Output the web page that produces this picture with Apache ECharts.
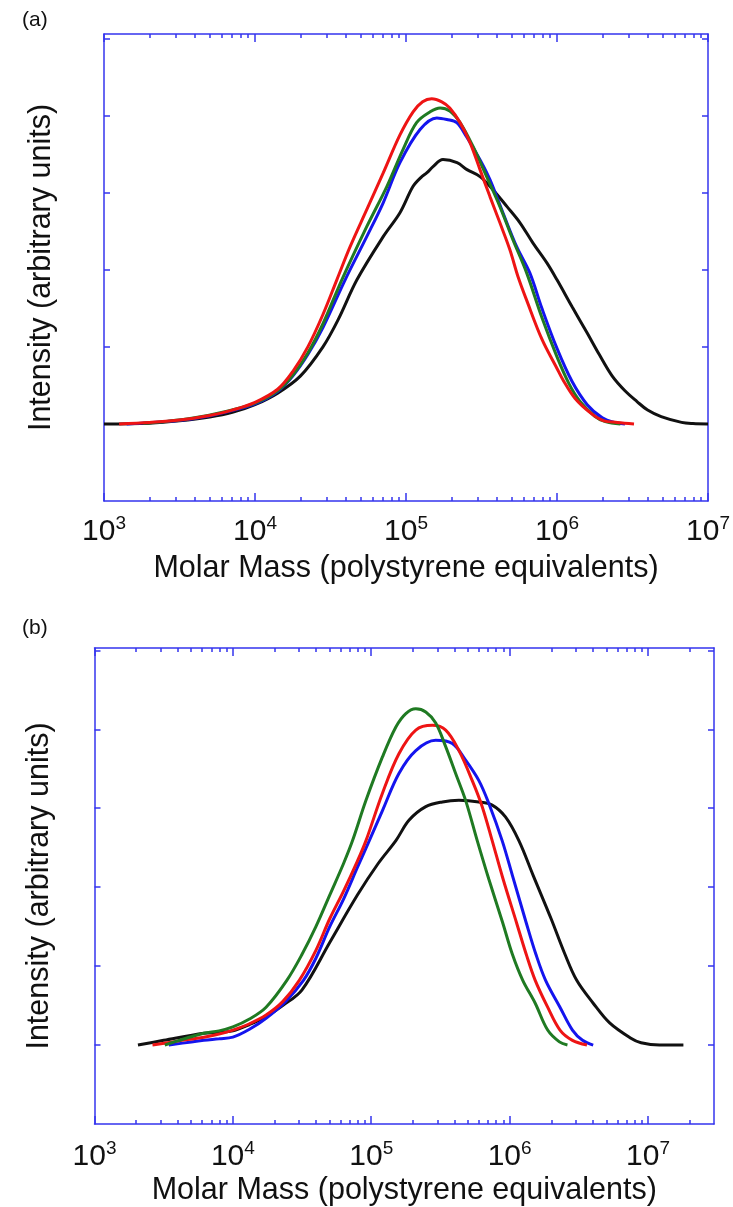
<!DOCTYPE html>
<html><head><meta charset="utf-8">
<script src="https://cdn.jsdelivr.net/npm/echarts@6/dist/echarts.min.js"></script>
<style>html,body{margin:0;padding:0;background:#fff}#c{width:733px;height:1207px}</style>
</head><body><div id="c"></div>
<script>
// ---------- data: log10(molar mass) and intensity (arbitrary units) ----------
// Panel (a)
const aRedLogM   = [3.1,3.3,3.5,3.7,3.85,4.0,4.15,4.25,4.35,4.45,4.542,4.63,4.74,4.85,4.96,5.047,5.11,5.17,5.237,5.29,5.358,5.424,5.49,5.556,5.622,5.688,5.742,5.8,5.9,6.0,6.04,6.12,6.23,6.31,6.4,6.51];
const aRedI      = [0,0.02,0.05,0.11,0.18,0.28,0.45,0.68,1.0,1.42,1.87,2.3,2.78,3.26,3.75,4.05,4.18,4.22,4.18,4.1,3.91,3.65,3.3,2.95,2.61,2.26,1.91,1.6,1.1,0.72,0.57,0.33,0.13,0.04,0.02,0];
const aGreenLogM = [3.26,3.4,3.6,3.8,4.0,4.15,4.25,4.35,4.45,4.575,4.74,4.873,4.98,5.07,5.16,5.226,5.29,5.358,5.444,5.534,5.622,5.708,5.799,5.9,6.0,6.08,6.15,6.25,6.32,6.42];
const aGreenI    = [0.01,0.03,0.08,0.16,0.27,0.43,0.63,0.92,1.3,1.87,2.56,3.08,3.56,3.91,4.05,4.1,4.06,3.91,3.6,3.21,2.82,2.39,1.96,1.38,0.87,0.52,0.3,0.1,0.03,0];
const aBlueLogM  = [3.15,3.4,3.6,3.8,4.0,4.15,4.25,4.35,4.45,4.597,4.74,4.849,4.96,5.093,5.204,5.27,5.336,5.4,5.49,5.556,5.642,5.733,5.82,5.9,6.0,6.1,6.2,6.3,6.38,6.45];
const aBlueI     = [0,0.03,0.07,0.15,0.26,0.42,0.62,0.9,1.25,1.87,2.43,2.87,3.39,3.82,3.97,3.95,3.91,3.73,3.43,3.17,2.74,2.3,1.96,1.5,0.98,0.55,0.25,0.08,0.02,0];
const aBlackLogM = [3.0,3.3,3.5,3.7,3.85,4.0,4.15,4.3,4.45,4.55,4.675,4.849,4.96,5.046,5.1,5.139,5.179,5.245,5.338,5.404,5.49,5.576,5.669,5.755,5.84,5.933,6.0,6.1,6.2,6.28,6.366,6.45,6.53,6.6,6.69,6.825,6.9,7.0];
const aBlackI    = [0,0.01,0.04,0.09,0.15,0.25,0.4,0.62,1.0,1.35,1.87,2.43,2.74,3.08,3.2,3.26,3.34,3.43,3.39,3.3,3.21,3.04,2.82,2.61,2.35,2.09,1.87,1.52,1.18,0.9,0.62,0.43,0.29,0.18,0.095,0.02,0.005,0];
// Panel (b)
const bGreenLogM = [3.508,3.65,3.79,3.9,4.0,4.12,4.24,4.39,4.5,4.6,4.7,4.8,4.865,4.962,5.081,5.178,5.25,5.322,5.394,5.466,5.538,5.61,5.682,5.766,5.85,5.95,6.02,6.095,6.185,6.275,6.36,6.418];
const bGreenI    = [0,0.08,0.15,0.18,0.23,0.33,0.48,0.82,1.15,1.5,1.9,2.3,2.59,3.1,3.65,4.03,4.2,4.26,4.22,4.08,3.78,3.44,3.1,2.59,2.1,1.55,1.15,0.82,0.53,0.19,0.04,0];
const bRedLogM   = [3.419,3.6,3.79,3.9,4.0,4.12,4.24,4.36,4.48,4.6,4.7,4.8,4.9,4.962,5.081,5.2,5.322,5.442,5.538,5.634,5.73,5.802,5.874,5.95,6.05,6.12,6.185,6.275,6.364,6.454,6.559];
const bRedI      = [0,0.05,0.1,0.14,0.19,0.27,0.38,0.55,0.82,1.2,1.6,1.95,2.33,2.59,3.19,3.69,3.99,4.05,3.99,3.73,3.35,3.02,2.59,2.12,1.55,1.15,0.82,0.48,0.19,0.06,0];
const bBlueLogM  = [3.537,3.7,3.79,3.9,4.0,4.12,4.24,4.38,4.51,4.6,4.7,4.8,4.9,4.986,5.081,5.2,5.322,5.466,5.586,5.682,5.778,5.85,5.946,6.02,6.12,6.19,6.26,6.364,6.454,6.527,6.604];
const bBlueI     = [0,0.04,0.06,0.08,0.1,0.2,0.34,0.55,0.82,1.1,1.5,1.85,2.25,2.59,2.97,3.44,3.73,3.86,3.82,3.61,3.35,3.06,2.59,2.15,1.55,1.15,0.82,0.48,0.19,0.06,0];
const bBlackLogM = [3.314,3.5,3.79,3.9,4.0,4.12,4.24,4.36,4.5,4.7,4.9,5.05,5.178,5.274,5.394,5.514,5.634,5.778,5.874,5.97,6.067,6.17,6.3,6.4,6.485,6.604,6.723,6.873,6.95,7.083,7.256];
const bBlackI    = [0,0.06,0.15,0.16,0.18,0.26,0.36,0.5,0.7,1.3,1.9,2.3,2.59,2.85,3.02,3.08,3.1,3.08,3.04,2.89,2.59,2.15,1.6,1.15,0.82,0.53,0.28,0.09,0.03,0,0];

// ---------- axes ticks / texts ----------
const xMajorTicks = [1e3,1e4,1e5,1e6,1e7];
const minorMultipliers = [2,3,4,5,6,7,8,9];
const yTicks = [0,1,2,3,4,5];
const xTitle = 'Molar Mass (polystyrene equivalents)';
const yTitle = 'Intensity (arbitrary units)';
const panelLabels = ['(a)','(b)'];

const FRAME = '#3535ee';
const FONT = 'Liberation Sans, Arial, Helvetica, sans-serif';
const COLORS = {red:'#ee1414', green:'#1f7a22', blue:'#1414ee', black:'#111111'};

function minorTicks(maxV){
  const out=[];
  for(let d=1e3; d<maxV; d*=10){ for(const m of minorMultipliers){ const v=m*d; if(v<maxV) out.push(v);} }
  return out;
}
function pairs(logM, I){ return logM.map((l,i)=>[Math.pow(10,l), I[i]]); }

const panels = [
  {left:104, right:25, top:34, height:467, xMax:1e7, yMax:5.06, yGap:47, xGap:52, lblMargin:13,
   series:[['black',aBlackLogM,aBlackI],['blue',aBlueLogM,aBlueI],['green',aGreenLogM,aGreenI],['red',aRedLogM,aRedI]]},
  {left:94.5, right:19, top:648, height:476, xMax:3e7, yMax:5.03, yGap:39, xGap:51, lblMargin:15,
   series:[['black',bBlackLogM,bBlackI],['blue',bBlueLogM,bBlueI],['red',bRedLogM,bRedI],['green',bGreenLogM,bGreenI]]}
];

const grid=[], xAxis=[], yAxis=[], series=[];
const lineS = {color:FRAME, width:1.5};
const labelFmt = v => '{b|10}{s|' + Math.round(Math.log10(v)) + '}';
const rich = {b:{fontSize:30, fontFamily:FONT, color:'#111'}, s:{fontSize:19, fontFamily:FONT, color:'#111', padding:[0,0,16,0]}};
const titleStyle = {fontSize:30.5, fontFamily:FONT, color:'#111'};

panels.forEach((p,gi)=>{
  grid.push({left:p.left, right:p.right, top:p.top, height:p.height, containLabel:false, outerBoundsMode:'none'});
  const base = {gridIndex:gi, type:'log', logBase:10, min:1e3, max:p.xMax, splitLine:{show:false}, minorTick:{show:false}, minorSplitLine:{show:false}};
  const minors = minorTicks(p.xMax);
  xAxis.push(Object.assign({}, base, {position:'bottom', axisLine:{show:true,onZero:false,lineStyle:lineS},
     axisTick:{show:true,inside:true,length:8,customValues:xMajorTicks,lineStyle:lineS},
     axisLabel:{show:true,customValues:xMajorTicks,formatter:labelFmt,rich:rich,margin:p.lblMargin},
     name:xTitle, nameLocation:'middle', nameGap:p.xGap, nameTextStyle:titleStyle}));
  xAxis.push(Object.assign({}, base, {position:'bottom', axisLine:{show:false,onZero:false},
     axisTick:{show:true,inside:true,length:4,customValues:minors,lineStyle:lineS}, axisLabel:{show:false}}));
  xAxis.push(Object.assign({}, base, {position:'top', axisLine:{show:true,onZero:false,lineStyle:lineS},
     axisTick:{show:true,inside:true,length:8,customValues:xMajorTicks,lineStyle:lineS}, axisLabel:{show:false}}));
  xAxis.push(Object.assign({}, base, {position:'top', axisLine:{show:false,onZero:false},
     axisTick:{show:true,inside:true,length:4,customValues:minors,lineStyle:lineS}, axisLabel:{show:false}}));
  const ybase = {gridIndex:gi, type:'value', min:-1, max:p.yMax, splitLine:{show:false}, axisLabel:{show:false},
     axisLine:{show:true,onZero:false,lineStyle:lineS}, axisTick:{show:true,inside:true,length:6,customValues:yTicks,lineStyle:lineS}};
  yAxis.push(Object.assign({}, ybase, {position:'left', name:yTitle, nameLocation:'middle', nameGap:p.yGap, nameRotate:90,
     nameTextStyle:titleStyle}));
  yAxis.push(Object.assign({}, ybase, {position:'right'}));
  p.series.forEach(([c,lm,iv])=>{
    series.push({type:'line', xAxisIndex:gi*4, yAxisIndex:gi*2, data:pairs(lm,iv), showSymbol:false, smooth:0.35,
      lineStyle:{color:COLORS[c], width:3}, itemStyle:{color:COLORS[c]}, z:3});
  });
});

const chart = echarts.init(document.getElementById('c'), null, {renderer:'canvas'});
chart.setOption({
  animation:false, backgroundColor:'#fff',
  title:[
    {text:panelLabels[0], left:22, top:10, padding:0, textStyle:{fontSize:21,fontWeight:'normal',fontFamily:FONT,color:'#111'}},
    {text:panelLabels[1], left:22, top:618, padding:0, textStyle:{fontSize:21,fontWeight:'normal',fontFamily:FONT,color:'#111'}}
  ],
  grid, xAxis, yAxis, series
});
</script></body></html>
